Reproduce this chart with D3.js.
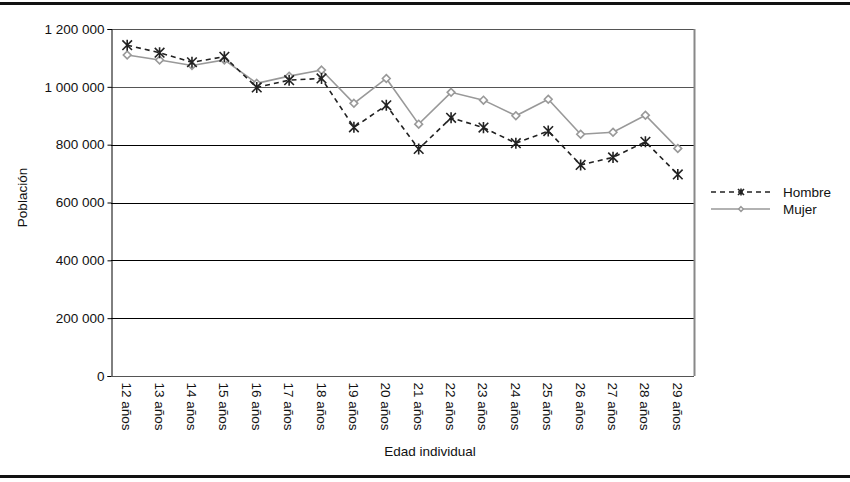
<!DOCTYPE html>
<html><head><meta charset="utf-8">
<script src="https://cdn.jsdelivr.net/npm/d3@7"></script>
<style>body{margin:0;background:#fff}svg{display:block}text{font-family:"Liberation Sans",Arial,sans-serif;fill:#111}</style>
</head><body><svg id="c" width="850" height="482"></svg>
<script>
const categories = ["12 años","13 años","14 años","15 años","16 años","17 años","18 años","19 años","20 años","21 años","22 años","23 años","24 años","25 años","26 años","27 años","28 años","29 años"];
const hombre = [1144000,1118000,1085000,1104000,998000,1023000,1029000,860000,936000,785000,893000,859000,805000,847000,730000,756000,810000,697000];
const mujer  = [1110000,1093000,1074000,1093000,1012000,1037000,1058000,943000,1029000,871000,981000,954000,900000,957000,836000,843000,902000,787000];
const yTicks = [0,200000,400000,600000,800000,1000000,1200000];
const seriesNames = ["Hombre","Mujer"];

const svg = d3.select("#c");
const m = {l:111, r:694, t:29, b:376};
const x = d3.scaleBand().domain(categories).range([m.l, m.r]);
const y = d3.scaleLinear().domain([0,1200000]).range([m.b, m.t]);
const fmt = v => d3.format(",")(v).replace(/,/g, " ");

// frame lines
svg.append("rect").attr("x",0).attr("y",2).attr("width",850).attr("height",3).attr("fill","#111");
svg.append("rect").attr("x",0).attr("y",475).attr("width",850).attr("height",3).attr("fill","#111");

// grid
svg.append("g").selectAll("line").data(yTicks.slice(1)).join("line")
  .attr("x1",m.l).attr("x2",m.r)
  .attr("y1",d=>Math.round(y(d))+0.5).attr("y2",d=>Math.round(y(d))+0.5)
  .attr("stroke",(d,i)=> d>=1000000 ? "#555" : "#000").attr("stroke-width",1);
// right border
svg.append("line").attr("x1",m.r+0.5).attr("x2",m.r+0.5).attr("y1",m.t).attr("y2",m.b)
  .attr("stroke","#888").attr("stroke-width",2);

// y axis
const ya = svg.append("g").attr("transform",`translate(${m.l+0.5},0)`)
  .call(d3.axisLeft(y).tickValues(yTicks).tickFormat(fmt).tickSize(4).tickPadding(3));
ya.select(".domain").attr("stroke","#000");
ya.selectAll(".tick line").attr("stroke","#000");
ya.selectAll("text").attr("font-size","13.5px").attr("fill","#111").attr("font-family","Liberation Sans, Arial, sans-serif");

// x axis
const xa = svg.append("g").attr("transform",`translate(0,${m.b+0.5})`)
  .call(d3.axisBottom(x).tickSize(0).tickPadding(0));
xa.select(".domain").attr("stroke","#555").attr("d",`M${m.l},0H${m.r}`);
xa.selectAll("text").attr("font-size","13.5px").attr("fill","#111")
  .attr("font-family","Liberation Sans, Arial, sans-serif")
  .attr("text-anchor","start").attr("dy",null).attr("y",null)
  .attr("transform","translate(-5,6) rotate(90)").attr("dy","0");

// axis titles
svg.append("text").attr("x",430).attr("y",456).attr("text-anchor","middle").attr("font-size","13.5px").text("Edad individual");
svg.append("text").attr("transform",`translate(27,${(m.t+m.b)/2-5}) rotate(-90)`).attr("text-anchor","middle").attr("font-size","13.5px").text("Población");

const cx = d => x(d) + x.bandwidth()/2;
const line = d3.line().x(d=>cx(d[0])).y(d=>y(d[1]));

// Mujer
const mData = categories.map((c,i)=>[c,mujer[i]]);
svg.append("path").attr("d",line(mData)).attr("fill","none").attr("stroke","#999").attr("stroke-width",1.6);
const diamond = d3.symbol().type(d3.symbolDiamond2).size(38);
svg.append("g").selectAll("path").data(mData).join("path")
  .attr("d",diamond).attr("transform",d=>`translate(${cx(d[0])},${y(d[1])})`)
  .attr("fill","#fff").attr("stroke","#999").attr("stroke-width",1.6);

// Hombre
const hData = categories.map((c,i)=>[c,hombre[i]]);
svg.append("path").attr("d",line(hData)).attr("fill","none").attr("stroke","#222").attr("stroke-width",1.6).attr("stroke-dasharray","5,4");
const star = s => `M${-s},${-s}L${s},${s}M${-s},${s}L${s},${-s}M0,${-s*1.15}L0,${s*1.15}`;
svg.append("g").selectAll("path").data(hData).join("path")
  .attr("d",star(4.8)).attr("transform",d=>`translate(${cx(d[0])},${y(d[1])})`)
  .attr("fill","none").attr("stroke","#222").attr("stroke-width",1.6);

// legend
const lg = svg.append("g");
const ly = [192, 209];
lg.append("line").attr("x1",711).attr("x2",770).attr("y1",ly[0]).attr("y2",ly[0]).attr("stroke","#222").attr("stroke-width",1.6).attr("stroke-dasharray","5,4");
lg.append("path").attr("d",star(3)).attr("transform",`translate(741,${ly[0]})`).attr("stroke","#222").attr("stroke-width",1.6);
lg.append("line").attr("x1",711).attr("x2",770).attr("y1",ly[1]).attr("y2",ly[1]).attr("stroke","#999").attr("stroke-width",1.6);
lg.append("path").attr("d",d3.symbol().type(d3.symbolDiamond2).size(14)()).attr("transform",`translate(741,${ly[1]})`).attr("fill","#fff").attr("stroke","#999").attr("stroke-width",1.5);
lg.selectAll("text.l").data(seriesNames).join("text").attr("class","l")
  .attr("x",783).attr("y",(d,i)=>ly[i]+5).attr("font-size","13.5px").text(d=>d);
</script></body></html>
